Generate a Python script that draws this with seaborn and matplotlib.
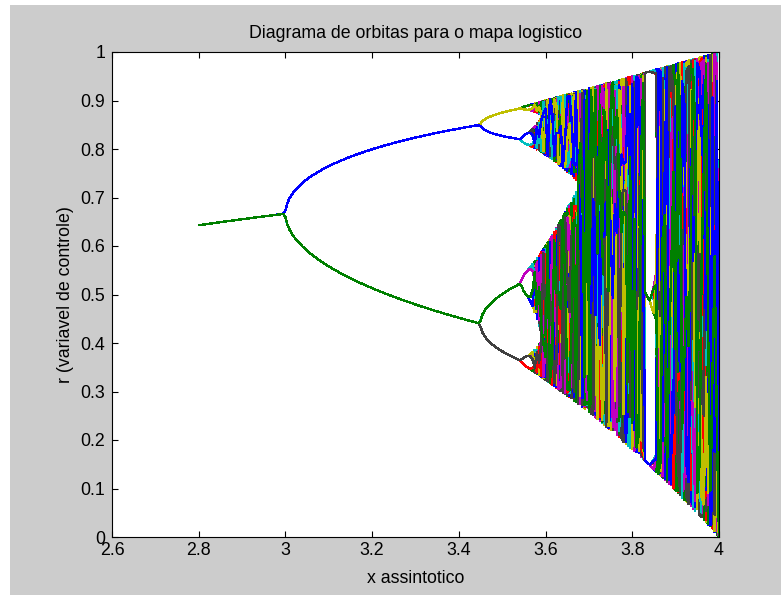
import numpy as np
import pandas as pd
import matplotlib
matplotlib.use("Agg")
import matplotlib.pyplot as plt
from matplotlib.patches import Rectangle
import seaborn as sns

# Logistic map settings: control-parameter grid, start value, iterations
r_start, r_stop, r_step = 2.8, 4.0, 0.005
x_initial = 0.5
n_transient = 1004
n_orbit = 100

# Axis ranges, ticks and labels
x_limits = (2.6, 4.0)
y_limits = (0.0, 1.0)
x_ticks = [2.6, 2.8, 3.0, 3.2, 3.4, 3.6, 3.8, 4.0]
x_tick_labels = ["2.6", "2.8", "3", "3.2", "3.4", "3.6", "3.8", "4"]
y_ticks = [0.0, 0.1, 0.2, 0.3, 0.4, 0.5, 0.6, 0.7, 0.8, 0.9, 1.0]
y_tick_labels = ["0", "0.1", "0.2", "0.3", "0.4", "0.5", "0.6", "0.7", "0.8", "0.9", "1"]

# Classic colour order, cycled over the orbit lines
line_colors = ["#0000ff", "#008000", "#ff0000", "#00bfbf", "#bf00bf", "#bfbf00", "#404040"]

title_text = "Diagrama de orbitas para o mapa logistico"
x_label_text = "x assintotico"
y_label_text = "r (variavel de controle)"

# Iterate the logistic map x -> r x (1 - x) for every r at once
r_values = np.round(np.arange(r_start, r_stop + r_step / 2, r_step), 6)
x = np.full(r_values.shape, x_initial)
for _ in range(n_transient):
    x = r_values * x * (1.0 - x)
orbit = np.empty((n_orbit, r_values.size))
for k in range(n_orbit):
    x = r_values * x * (1.0 - x)
    orbit[k] = x

iterate_names = [f"it{k:03d}" for k in range(n_orbit)]
df = pd.DataFrame({
    "r": np.tile(r_values, n_orbit),
    "x": orbit.ravel(),
    "iterate": np.repeat(iterate_names, r_values.size),
})
palette = {name: line_colors[k % len(line_colors)] for k, name in enumerate(iterate_names)}

sns.set_style("ticks")
plt.rcParams["font.family"] = ["Liberation Sans", "DejaVu Sans"]
font_size = 12.8

fig = plt.figure(figsize=(7.81, 5.95), dpi=100, facecolor="white")
fig.patches.append(Rectangle((10 / 781, 0), 1, 590 / 595, transform=fig.transFigure,
                             facecolor="#cccccc", edgecolor="none", zorder=-10))
ax = fig.add_axes([112 / 781, 1 - 537 / 595, 607 / 781, 485 / 595])
ax.set_facecolor("white")

sns.lineplot(data=df, x="r", y="x", hue="iterate", hue_order=iterate_names,
             palette=palette, estimator=None, sort=False, legend=False,
             linewidth=1.0, antialiased=False, ax=ax)

ax.set_xlim(*x_limits)
ax.set_ylim(*y_limits)
ax.set_xticks(x_ticks)
ax.set_xticklabels(x_tick_labels)
ax.set_yticks(y_ticks)
ax.set_yticklabels(y_tick_labels)
ax.tick_params(axis="both", which="both", direction="in", top=True, right=True,
               length=4.3, width=0.8, color="black", labelsize=font_size,
               labelcolor="black")
ax.tick_params(axis="x", pad=3.5)
ax.tick_params(axis="y", pad=5)
for spine in ax.spines.values():
    spine.set_visible(True)
    spine.set_color("black")
    spine.set_linewidth(0.8)

ax.set_title(title_text, fontsize=font_size, color="black", pad=10)
ax.set_xlabel(x_label_text, fontsize=font_size, color="black")
ax.set_ylabel(y_label_text, fontsize=font_size, color="black")
ax.xaxis.set_label_coords(0.5, (537 - 570) / 485)
ax.yaxis.set_label_coords((74 - 112) / 607, 0.5)

fig.savefig("out.png", dpi=100, facecolor=fig.get_facecolor())
